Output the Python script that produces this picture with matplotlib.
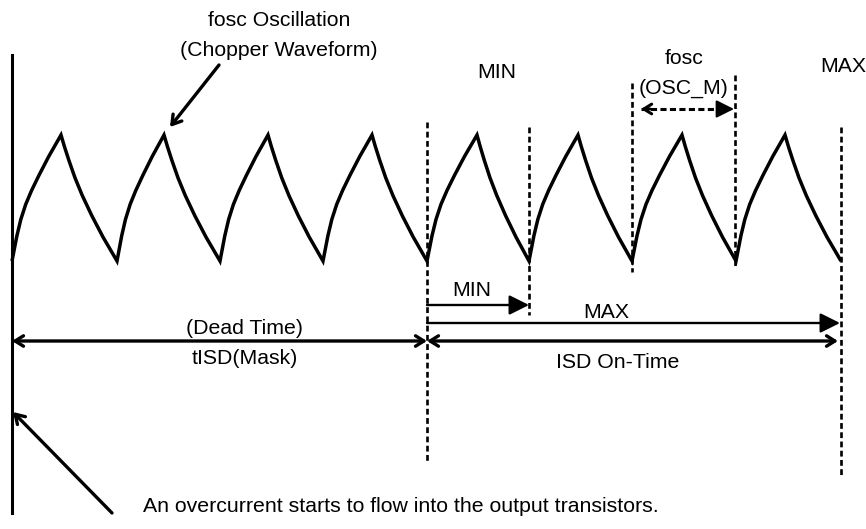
import matplotlib
matplotlib.use("Agg")
import matplotlib.pyplot as plt
import numpy as np

plt.rcParams['font.family'] = ['Liberation Sans', 'DejaVu Sans']

# ---- data (schematic time / level units) ----
valley_x = [12, 117, 220, 323, 427, 529, 632, 736, 841]
peak_x = [61, 164, 268, 372, 477, 578, 682, 785]
peak_y = 135
valley_y = 261
# one-cycle template (fraction of segment time, fraction of amplitude)
rise_t = [0.0, 0.04, 0.10, 0.18, 0.28, 0.40, 0.55, 0.75, 1.0]
rise_v = [0.0, 0.08, 0.20, 0.33, 0.45, 0.56, 0.68, 0.83, 1.0]
fall_t = [0.0, 0.06, 0.14, 0.25, 0.38, 0.55, 0.75, 1.0]
fall_v = [1.0, 0.91, 0.80, 0.66, 0.52, 0.36, 0.19, 0.0]

start_x = 12          # overcurrent start
mask_end_x = 427      # end of tISD (mask)
min_end_x = 529       # ISD on-time MIN
max_end_x = 840       # ISD on-time MAX
osc_left_x = 632
osc_right_x = 735

W, H = 866, 529
fig = plt.figure(figsize=(W / 100, H / 100), dpi=100)
ax = fig.add_axes([0, 0, 1, 1])
ax.set_xlim(0, W)
ax.set_ylim(H, 0)
ax.axis('off')

# ---- waveform ----
xs, ys = [], []
amp = valley_y - peak_y
for i, px in enumerate(peak_x):
    v0 = valley_x[i]
    v1 = valley_x[i + 1]
    for t, v in zip(rise_t, rise_v):
        xs.append(v0 + t * (px - v0))
        ys.append(valley_y - v * amp)
    for t, v in zip(fall_t[1:], fall_v[1:]):
        xs.append(px + t * (v1 - px))
        ys.append(valley_y - v * amp)
ax.plot(xs, ys, color='black', lw=2.5, solid_joinstyle='miter', solid_capstyle='butt')

# ---- solid vertical start line ----
ax.plot([start_x, start_x], [55, 513], color='black', lw=2.2)

# ---- dashed verticals ----
dash = (0, (2.2, 1.3))
dashed_lines = [(mask_end_x, 122, 462), (min_end_x, 127, 315),
                (osc_left_x, 83, 272), (osc_right_x, 75, 267), (841, 127, 478)]
for x, y0, y1 in dashed_lines:
    ax.plot([x, x], [y0, y1], color='black', lw=1.9, linestyle=dash)

# ---- arrows ----
def arrow(x0, y0, x1, y1, style, lw, ms=18, hl=0.4, hw=0.25):
    ax.annotate('', xy=(x1, y1), xytext=(x0, y0),
                arrowprops=dict(arrowstyle=f'{style},head_length={hl},head_width={hw}',
                                lw=lw, color='black', shrinkA=0, shrinkB=0,
                                mutation_scale=ms))

# MIN / MAX on-time arrows (filled heads)
arrow(mask_end_x, 305, min_end_x, 305, '-|>', 1.7, ms=20, hl=0.6, hw=0.3)
arrow(mask_end_x, 323, max_end_x, 323, '-|>', 1.7, ms=20, hl=0.6, hw=0.3)
# dead time / ISD on-time double arrows (open heads)
arrow(start_x, 341, mask_end_x, 341, '<->', 2.4, ms=15)
arrow(mask_end_x, 341, max_end_x - 2, 341, '<->', 2.4, ms=15)
# fosc dashed period arrow
ax.plot([osc_left_x + 9, osc_right_x - 8], [109, 109], color='black', lw=2.2, linestyle=(0, (2.0, 1.1)))
arrow(osc_right_x - 10, 109, osc_right_x - 1, 109, '-|>', 1.5, ms=18, hl=0.6, hw=0.3)
arrow(osc_left_x + 18, 109, osc_left_x + 9, 109, '->', 2.2, ms=14)
# pointer arrows
arrow(219, 65, 170, 127, '->', 2.4, ms=16)
arrow(112, 513, 13, 412, '->', 2.4, ms=16)

# ---- texts ----
fs = 15.3
ax.text(279, 20, 'fosc Oscillation', ha='center', va='center', fontsize=fs)
ax.text(279, 50, '(Chopper Waveform)', ha='center', va='center', fontsize=fs)
ax.text(497, 72, 'MIN', ha='center', va='center', fontsize=fs)
ax.text(684, 58, 'fosc', ha='center', va='center', fontsize=fs)
ax.text(684, 88, '(OSC_M)', ha='center', va='center', fontsize=fs)
ax.text(820, 67, 'MAX', ha='left', va='center', fontsize=fs)
ax.text(472, 290, 'MIN', ha='center', va='center', fontsize=fs)
ax.text(606, 312, 'MAX', ha='center', va='center', fontsize=fs)
ax.text(245, 328, '(Dead Time)', ha='center', va='center', fontsize=fs)
ax.text(245, 358, 'tISD(Mask)', ha='center', va='center', fontsize=fs)
ax.text(618, 362, 'ISD On-Time', ha='center', va='center', fontsize=fs)
ax.text(143, 507, 'An overcurrent starts to flow into the output transistors.',
        ha='left', va='center', fontsize=fs)

fig.savefig('out.png', dpi=100)
